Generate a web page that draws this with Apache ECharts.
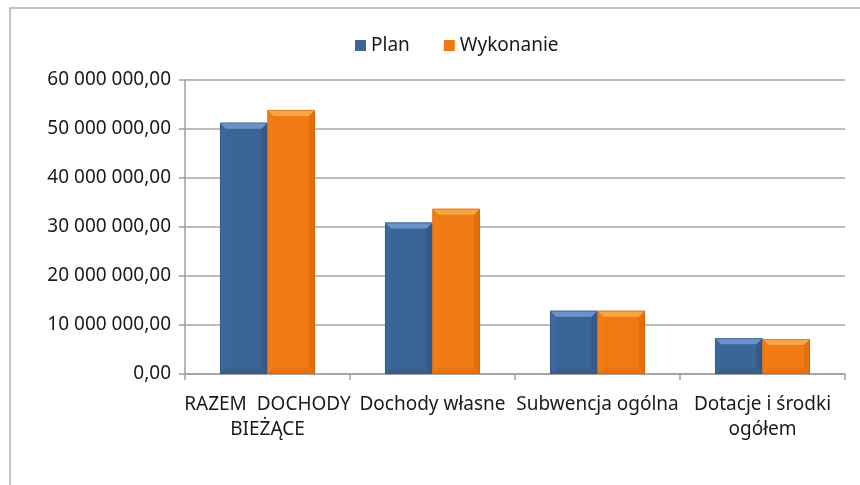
<!DOCTYPE html>
<html><head><meta charset="utf-8">
<script src="https://cdn.jsdelivr.net/npm/echarts@6/dist/echarts.min.js"></script>
<style>html,body{margin:0;padding:0;background:#fff}#c{width:860px;height:485px}</style>
</head><body><div id="c"></div>
<script>
const categories = ['RAZEM  DOCHODY\nBIEŻĄCE', 'Dochody własne', 'Subwencja ogólna', 'Dotacje i środki\nogółem'];
const planValues = [51300000, 30900000, 12900000, 7300000];
const wykonanieValues = [53900000, 33700000, 12900000, 7150000];
const seriesNames = ['Plan', 'Wykonanie'];
const yTicks = { min: 0, max: 60000000, interval: 10000000 };

const FONT = 'Noto Sans';
const FS = 19;
const palettes = [
  { main: '#3b6597', top: '#6a93cb', left: '#3d689b', right: '#34598a', bottom: '#37608f', edge: '#2c4d78' },
  { main: '#f07a12', top: '#f9a545', left: '#f27d15', right: '#e26e0c', bottom: '#e8720e', edge: '#c55d08' }
];

function fmt(v) {
  const s = Math.round(v).toString().replace(/\B(?=(\d{3})+(?!\d))/g, ' ');
  return s + ',00';
}

function makeRender(idx) {
  const p = palettes[idx];
  return function (params, api) {
    const x = api.value(0), v = api.value(1);
    const base = api.coord([x, 0]);
    const topPt = api.coord([x, v]);
    const band = api.size([1, 0])[0];
    const bw = band * 0.288;
    const x0 = base[0] + (idx === 0 ? -bw : 0);
    const x1 = x0 + bw;
    const yt = topPt[1], yb = base[1];
    const b = Math.min(6, (yb - yt) / 2);
    return {
      type: 'group',
      children: [
        { type: 'rect', shape: { x: x0, y: yt, width: bw, height: yb - yt }, style: { fill: p.main } },
        { type: 'polygon', shape: { points: [[x0, yt], [x0 + b, yt + b], [x0 + b, yb - b], [x0, yb]] }, style: { fill: p.left } },
        { type: 'polygon', shape: { points: [[x1, yt], [x1 - b, yt + b], [x1 - b, yb - b], [x1, yb]] }, style: { fill: p.right } },
        { type: 'polygon', shape: { points: [[x0, yb], [x0 + b, yb - b], [x1 - b, yb - b], [x1, yb]] }, style: { fill: p.bottom } },
        { type: 'polygon', shape: { points: [[x0, yt], [x1, yt], [x1 - b, yt + b], [x0 + b, yt + b]] }, style: { fill: p.top } },
        { type: 'rect', shape: { x: x0 + 0.5, y: yt + 0.5, width: bw - 1, height: yb - yt - 1 }, style: { fill: 'none', stroke: p.edge, lineWidth: 1, opacity: 0.45 } }
      ]
    };
  };
}

const chart = echarts.init(document.getElementById('c'), null, { renderer: 'canvas' });
chart.setOption({
  animation: false,
  textStyle: { fontFamily: FONT },
  graphic: [{
    type: 'rect', z: -10,
    shape: { x: 10, y: 8, width: 870, height: 500 },
    style: { fill: 'none', stroke: '#b3b3b3', lineWidth: 1.5 }
  }],
  legend: {
    top: 31, left: 350,
    icon: 'rect', itemWidth: 11, itemHeight: 11, itemGap: 34, itemTextGap: 6,
    textStyle: { fontFamily: FONT, fontSize: FS, color: '#1a1a1a' },
    data: [
      { name: seriesNames[0], itemStyle: { color: palettes[0].main } },
      { name: seriesNames[1], itemStyle: { color: palettes[1].main } }
    ]
  },
  grid: { left: 185, right: 15, top: 80, bottom: 111, containLabel: false },
  xAxis: {
    type: 'category',
    data: categories,
    axisLine: { lineStyle: { color: '#9e9e9e', width: 1.5 } },
    axisTick: { show: true, length: 6, lineStyle: { color: '#9e9e9e', width: 1.5 } },
    axisLabel: { fontFamily: FONT, fontSize: FS, color: '#1a1a1a', lineHeight: 25, margin: 18, interval: 0 },
    splitLine: { show: false }
  },
  yAxis: {
    type: 'value',
    min: yTicks.min, max: yTicks.max, interval: yTicks.interval,
    axisLine: { show: true, lineStyle: { color: '#9e9e9e', width: 1.5 } },
    axisTick: { show: true, length: 6, lineStyle: { color: '#9e9e9e', width: 1.5 } },
    axisLabel: { fontFamily: FONT, fontSize: FS, color: '#1a1a1a', margin: 14, formatter: fmt },
    splitLine: { lineStyle: { color: '#a6a6a6', width: 1.5 } }
  },
  series: [
    { name: seriesNames[0], type: 'custom', renderItem: makeRender(0), itemStyle: { color: palettes[0].main },
      encode: { x: 0, y: 1 }, data: planValues.map((v, i) => [i, v]) },
    { name: seriesNames[1], type: 'custom', renderItem: makeRender(1), itemStyle: { color: palettes[1].main },
      encode: { x: 0, y: 1 }, data: wykonanieValues.map((v, i) => [i, v]) }
  ]
});
</script></body></html>
